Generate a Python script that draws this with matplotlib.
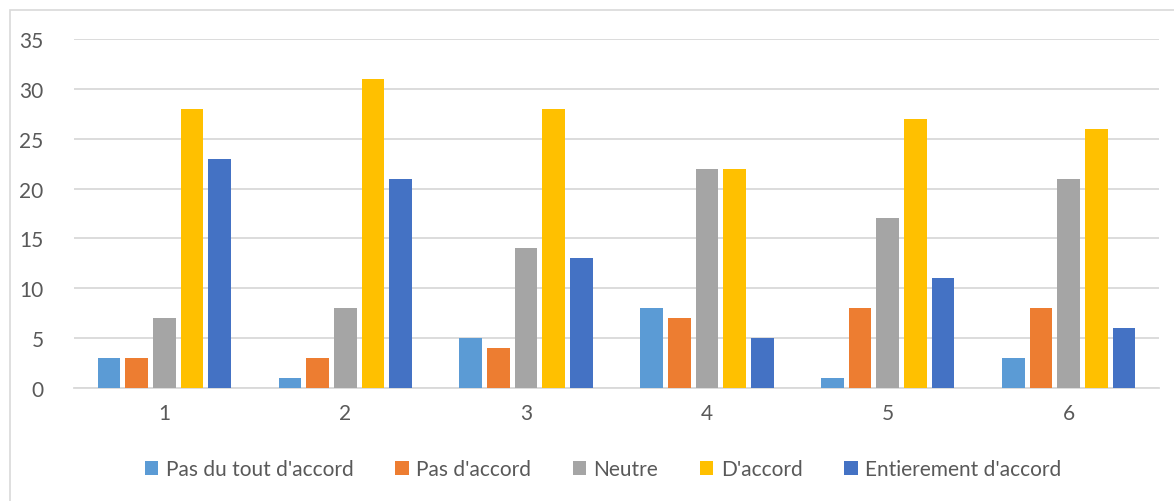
import matplotlib
matplotlib.use("Agg")
import matplotlib.pyplot as plt
from matplotlib.patches import Rectangle
import numpy as np

plt.rcParams['font.family'] = ['Lato', 'DejaVu Sans']

categories = ["1", "2", "3", "4", "5", "6"]
series_names = ["Pas du tout d'accord", "Pas d'accord", "Neutre", "D'accord",
                "Entierement d'accord"]
pas_du_tout = [3, 1, 5, 8, 1, 3]
pas_accord = [3, 3, 4, 7, 8, 8]
neutre = [7, 8, 14, 22, 17, 21]
accord = [28, 31, 28, 22, 27, 26]
entierement = [23, 21, 13, 5, 11, 6]
series = [pas_du_tout, pas_accord, neutre, accord, entierement]
colors = ["#5B9BD5", "#ED7D31", "#A5A5A5", "#FFC000", "#4472C4"]
yticks = [0, 5, 10, 15, 20, 25, 30, 35]

text_color = "#595959"
grid_color = "#D9D9D9"

fig = plt.figure(figsize=(11.74, 5.02), dpi=100)
fig.patch.set_facecolor("white")
# chart frame
fig.add_artist(Rectangle((10 / 1174, -0.05), 1.2, (502 - 11) / 502 + 0.05,
                         transform=fig.transFigure, fill=False,
                         edgecolor="#D9D9D9", linewidth=1.2))

ax = fig.add_axes([74 / 1174, 1 - 389 / 502, (1159 - 74) / 1174, (389 - 40) / 502])
x = np.arange(len(categories))
pitch = 0.153
width = 0.1255
for i, (vals, name, c) in enumerate(zip(series, series_names, colors)):
    ax.bar(x + (i - 2) * pitch, vals, width, color=c, label=name, zorder=3)

ax.set_xlim(-0.5, len(categories) - 0.5)
ax.set_ylim(0, 35)
ax.set_yticks(yticks)
ax.set_xticks(x)
ax.set_xticklabels(categories)
ax.yaxis.grid(True, color=grid_color, linewidth=1.3, zorder=0)
for s in ["top", "right", "left"]:
    ax.spines[s].set_visible(False)
ax.spines["bottom"].set_color(grid_color)
ax.spines["bottom"].set_linewidth(1.3)
ax.tick_params(axis="both", length=0, labelsize=15, colors=text_color)
ax.tick_params(axis="y", pad=22)
ax.tick_params(axis="x", pad=11)

leg = fig.legend(loc="center", bbox_to_anchor=(603 / 1174, 1 - 470 / 502), ncol=5,
                 frameon=False, fontsize=15, handlelength=0.65, handleheight=0.65,
                 handletextpad=0.35, columnspacing=2.0)
for t in leg.get_texts():
    t.set_color(text_color)

fig.savefig("out.png", dpi=100, facecolor="white")
